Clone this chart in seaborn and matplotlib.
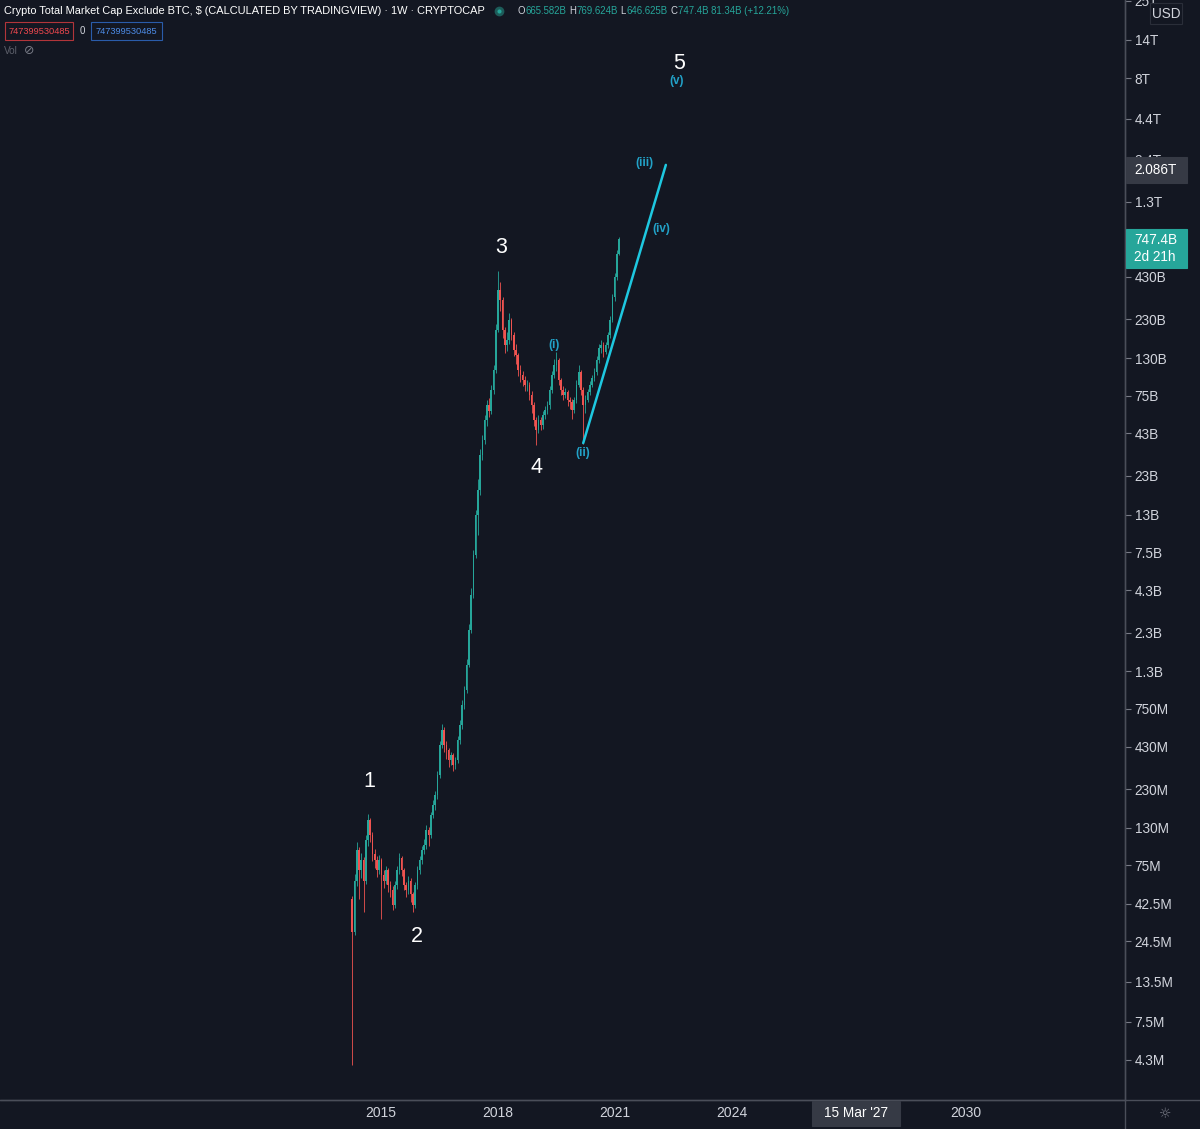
import numpy as np
import pandas as pd
import seaborn as sns
import matplotlib.pyplot as plt
import matplotlib.dates as mdates
from matplotlib.patches import Rectangle
from matplotlib.lines import Line2D

# candles in 3-week buckets, values in billions USD
start_date = '2014-04-07'
first_open_bn = 0.046
close_bn = [0.028, 0.060, 0.094, 0.070, 0.081, 0.060, 0.109, 0.146, 0.117, 0.088,
            0.081, 0.070, 0.081, 0.065, 0.060, 0.070, 0.056, 0.052, 0.042, 0.056,
            0.070, 0.084, 0.070, 0.056, 0.052, 0.060, 0.049, 0.042, 0.056, 0.070,
            0.081, 0.094, 0.101, 0.126, 0.117, 0.157, 0.182, 0.211, 0.284, 0.441,
            0.550, 0.441, 0.409, 0.353, 0.380, 0.328, 0.353, 0.475, 0.592, 0.794,
            0.989, 1.43, 2.39, 4.00, 7.20, 12.97, 18.7, 31.3, 39.1, 52.5,
            65.3, 60.0, 81.5, 109, 197, 355, 306, 197, 158, 170,
            228, 183, 147, 136, 109, 102, 94, 88, 88, 76,
            65, 52.5, 45.3, 52.5, 48.8, 56.4, 60.7, 65.3, 81.5, 102,
            118, 127, 94, 81.5, 76, 79, 70.4, 68.2, 60.7, 70.4,
            88, 106, 81.5, 65, 70.4, 79, 88, 97, 106, 127,
            151, 158, 143, 158, 183, 228, 320, 430, 600, 747.4]
high_bn = [0.048, 0.066, 0.105, 0.098, 0.090, 0.085, 0.118, 0.160, 0.150, 0.122,
           0.095, 0.086, 0.087, 0.084, 0.070, 0.074, 0.072, 0.060, 0.055, 0.060,
           0.074, 0.090, 0.086, 0.072, 0.059, 0.064, 0.062, 0.051, 0.059, 0.074,
           0.086, 0.100, 0.110, 0.135, 0.132, 0.165, 0.195, 0.225, 0.300, 0.470,
           0.600, 0.570, 0.470, 0.420, 0.400, 0.390, 0.370, 0.500, 0.640, 0.850,
           1.05, 1.55, 2.6, 4.4, 7.8, 14.0, 22, 34, 42, 56,
           70, 72, 88, 118, 215, 470, 400, 320, 205, 190,
           253, 235, 190, 160, 140, 118, 108, 100, 95, 92,
           80, 68, 55, 56, 55, 60, 64, 69, 86, 108,
           128, 143, 130, 97, 86, 84, 82, 74, 71, 74,
           94, 118, 110, 85, 76, 83, 93, 102, 112, 134,
           160, 170, 165, 166, 192, 240, 335, 455, 640, 769.6]
low_bn = [0.004, 0.027, 0.055, 0.046, 0.062, 0.038, 0.057, 0.100, 0.105, 0.080,
          0.072, 0.063, 0.066, 0.034, 0.054, 0.057, 0.051, 0.047, 0.039, 0.040,
          0.053, 0.066, 0.064, 0.052, 0.047, 0.049, 0.044, 0.038, 0.040, 0.053,
          0.066, 0.076, 0.088, 0.096, 0.100, 0.112, 0.150, 0.170, 0.200, 0.270,
          0.420, 0.400, 0.360, 0.320, 0.330, 0.300, 0.310, 0.340, 0.450, 0.560,
          0.75, 0.95, 1.38, 2.3, 3.8, 6.9, 9.6, 17.5, 29, 37,
          48, 55, 57, 77, 104, 190, 260, 175, 140, 145,
          160, 170, 135, 120, 100, 92, 86, 80, 80, 70,
          58, 48, 36.3, 43, 45, 46, 53, 57, 62, 78,
          97, 108, 88, 76, 70, 72, 64, 62, 53, 58,
          67, 85, 76, 37, 58, 68, 76, 85, 93, 102,
          122, 140, 132, 138, 152, 176, 220, 300, 410, 590]

# elliott wave line (ii) -> (iii)
wave_dates = ['2020-03-09', '2022-04-22']
wave_vals = [37.3e9, 2.23e12]

# wave labels
big_labels = ['1', '2', '3', '4', '5']
big_dates = ['2014-09-10', '2015-12-01', '2018-01-30', '2019-01-01', '2022-08-20']
big_vals = [259e6, 26.2e6, 658e9, 25.9e9, 9.97e12]
sub_labels = ['(i)', '(ii)', '(iii)', '(iv)', '(v)']
sub_dates = ['2019-06-10', '2020-03-08', '2021-10-08', '2022-03-08', '2022-08-03']
sub_vals = [158e9, 32.3e9, 2.30e12, 869e9, 7.7e12]

# axis ticks (750B sits under the live price tag, so its label is hidden)
price_ticks = [25e12, 14e12, 8e12, 4.4e12, 2.4e12, 1.3e12, 750e9, 430e9, 230e9, 130e9,
               75e9, 43e9, 23e9, 13e9, 7.5e9, 4.3e9, 2.3e9, 1.3e9, 750e6, 430e6,
               230e6, 130e6, 75e6, 42.5e6, 24.5e6, 13.5e6, 7.5e6, 4.3e6]
price_labels = ['25T', '14T', '8T', '4.4T', '2.4T', '1.3T', '', '430B', '230B', '130B',
                '75B', '43B', '23B', '13B', '7.5B', '4.3B', '2.3B', '1.3B', '750M', '430M',
                '230M', '130M', '75M', '42.5M', '24.5M', '13.5M', '7.5M', '4.3M']
year_labels = ['2015', '2018', '2021', '2024', '2030']

BG = '#131722'
UP = '#26a69a'
DOWN = '#ef5350'
CYAN = '#1ec8e0'
CYAN_TXT = '#22a2c8'
TXT = '#d1d4dc'
LINE = '#4a4e59'

sns.set_theme(style='dark', rc={'axes.facecolor': BG, 'figure.facecolor': BG,
                                'axes.edgecolor': LINE, 'text.color': TXT})
plt.rcParams['font.family'] = ['Liberation Sans', 'DejaVu Sans']

fig = plt.figure(figsize=(12, 11.29), dpi=100)
ax = fig.add_axes([0, 29 / 1129, 1125 / 1200, 1100 / 1129])
ax.set_facecolor(BG)
ax.set_yscale('log')

dates = pd.date_range(start_date, periods=len(close_bn), freq='21D')
xd = mdates.date2num(dates)
c = np.array(close_bn) * 1e9
o = np.array([first_open_bn] + close_bn[:-1]) * 1e9
h = np.array(high_bn) * 1e9
l = np.array(low_bn) * 1e9
cols = np.where(c >= o, UP, DOWN)

ax.vlines(xd, l, h, colors=cols, lw=0.6, zorder=2)
ax.bar(xd, np.abs(c - o), bottom=np.minimum(o, c), width=15, color=cols,
       linewidth=0, zorder=3)

sns.lineplot(x=mdates.date2num(pd.to_datetime(wave_dates)), y=wave_vals, ax=ax,
             color=CYAN, lw=1.8, zorder=4)

for t, d, v in zip(big_labels, big_dates, big_vals):
    ax.text(mdates.date2num(pd.Timestamp(d)), v, t, color='white', fontsize=15.5,
            ha='center', va='center', zorder=5)
for t, d, v in zip(sub_labels, sub_dates, sub_vals):
    ax.text(mdates.date2num(pd.Timestamp(d)), v, t, color=CYAN_TXT, fontsize=8.5,
            fontweight='bold', ha='center', va='center', zorder=5)

ax.set_xlim(mdates.date2num(pd.Timestamp('2005-03-25')),
            mdates.date2num(pd.Timestamp('2034-01-30')))
ax.set_ylim(2.38e6, 2.52e13)

ax.yaxis.tick_right()
ax.yaxis.set_minor_locator(plt.NullLocator())
ax.set_yticks(price_ticks)
ax.set_yticklabels(price_labels)
ax.set_xticks([mdates.date2num(pd.Timestamp(y + '-01-01')) for y in year_labels])
ax.set_xticklabels(year_labels)
ax.tick_params(axis='y', which='major', length=4, width=0.8, color='#787b86',
               labelcolor=TXT, labelsize=9.8, pad=3, direction='out')
ax.tick_params(axis='x', length=3, width=0.8, color='#787b86', labelcolor=TXT,
               labelsize=10, pad=1, direction='out')
for s in ['top', 'left']:
    ax.spines[s].set_visible(False)
for s in ['right', 'bottom']:
    ax.spines[s].set_color(LINE)
    ax.spines[s].set_linewidth(1)
ax.grid(False)


def fx(x):
    return x / 1200


def fy(y):
    return 1 - y / 1129


def box(x0, y0, x1, y1, fc, ec=None):
    fig.add_artist(Rectangle((fx(x0), fy(y1)), fx(x1) - fx(x0), fy(y0) - fy(y1),
                             transform=fig.transFigure, facecolor=fc,
                             edgecolor=ec if ec else fc, lw=0.8, zorder=10))


# full-width frame lines
fig.add_artist(Line2D([0, 1], [fy(1100), fy(1100)], color=LINE, lw=1, zorder=9))
fig.add_artist(Line2D([fx(1125), fx(1125)], [0, 1], color=LINE, lw=1, zorder=9))

# price boxes
box(1126, 157, 1187, 183, '#363a45')
fig.text(fx(1134), fy(170), '2.086T', color='white', fontsize=9.8, va='center', zorder=11)
box(1126, 229, 1187, 268, UP)
fig.text(fx(1134), fy(240), '747.4B', color='white', fontsize=9.8, va='center', zorder=11)
fig.text(fx(1134), fy(257), '2d 21h', color='white', fontsize=9.8, va='center', zorder=11)
box(1150, 3, 1182, 24, BG, '#2a2e39')
fig.text(fx(1166), fy(14), 'USD', color=TXT, fontsize=9.8, ha='center', va='center', zorder=11)

# crosshair date label
box(812, 1101, 900, 1126, '#363a45')
fig.text(fx(856), fy(1113), "15 Mar '27", color='white', fontsize=9.8,
         ha='center', va='center', zorder=11)
fig.text(fx(1165), fy(1114), '\u263c', color='#787b86', fontsize=10,
         ha='center', va='center', family='DejaVu Sans')

# header legend, laid out piece by piece
renderer = fig.canvas.get_renderer()


def seq_text(x, y, s, color, size):
    t = fig.text(fx(x), fy(y), s, color=color, fontsize=size, va='center')
    return x + t.get_window_extent(renderer).width


seq_text(4, 11, 'Crypto Total Market Cap Exclude BTC, $ (CALCULATED BY TRADINGVIEW) \u00b7 1W \u00b7 CRYPTOCAP',
         'white', 7.9)
fig.add_artist(Line2D([fx(499)], [fy(11)], marker='o', markersize=5, color=UP,
                      markeredgecolor='#1d5c5a', markeredgewidth=2, transform=fig.transFigure))
hx = 517
for letter, val in [('O', '665.582B'), ('H', '769.624B'), ('L', '646.625B'),
                    ('C', '747.4B 81.34B (+12.21%)')]:
    hx = seq_text(hx, 11, letter, TXT, 6.9)
    hx = seq_text(hx + 0.5, 11, val, UP, 6.9) + 3

box(5, 22, 73, 40, BG, '#b2353a')
fig.text(fx(39), fy(31), '747399530485', color='#f0484e', fontsize=6.7, ha='center',
         va='center', zorder=11)
fig.text(fx(82), fy(31), '0', color=TXT, fontsize=7, ha='center', va='center')
box(91, 22, 162, 40, BG, '#2a5caa')
fig.text(fx(126.5), fy(31), '747399530485', color='#4d8ce8', fontsize=6.7, ha='center',
         va='center', zorder=11)
fig.text(fx(4), fy(51), 'Vol', color='#5d606b', fontsize=7.2, va='center')
fig.text(fx(29), fy(51), '\u2298', color='#787b86', fontsize=9, ha='center', va='center',
         family='DejaVu Sans')

fig.savefig('out.png', dpi=100, facecolor=BG)
